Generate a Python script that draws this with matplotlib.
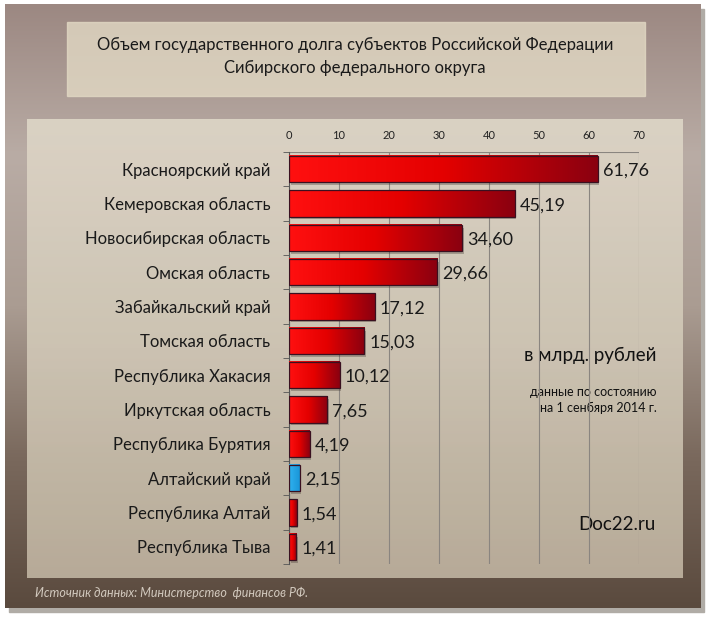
import numpy as np
import matplotlib.pyplot as plt
from matplotlib.colors import LinearSegmentedColormap
from matplotlib.patches import Rectangle

regions = ["Красноярский край", "Кемеровская область", "Новосибирская область",
           "Омская область", "Забайкальский край", "Томская область",
           "Республика Хакасия", "Иркутская область", "Республика Бурятия",
           "Алтайский край", "Республика Алтай", "Республика Тыва"]
debt = [61.76, 45.19, 34.60, 29.66, 17.12, 15.03, 10.12, 7.65, 4.19, 2.15, 1.54, 1.41]
highlight = "Алтайский край"
xticks = [0, 10, 20, 30, 40, 50, 60, 70]

plt.rcParams['font.family'] = ['Lato', 'DejaVu Sans']

W, H = 710, 621
fig = plt.figure(figsize=(W / 100, H / 100), dpi=100)
fig.patch.set_facecolor("white")

# background frame with a vertical gradient
bg = fig.add_axes([0, 0, 1, 1])
bg.set_xlim(0, W)
bg.set_ylim(H, 0)
bg.axis("off")
frame_cmap = LinearSegmentedColormap.from_list(
    "frame", ["#9c8882", "#b9aca5", "#aa9c92", "#7a695d", "#5a4a3e"])
grad = np.linspace(0, 1, 256).reshape(-1, 1)
bg.add_patch(Rectangle((9, 9), 695, 603, color="#b0aca6", zorder=0))
bg.imshow(grad, cmap=frame_cmap, extent=[5, 701, 608, 4], aspect="auto", zorder=1)
# title box and plot panel
bg.add_patch(Rectangle((67, 22), 578, 74, color="#e2d9c4", alpha=0.8, zorder=2))
panel_cmap = LinearSegmentedColormap.from_list("panel", ["#ddd5c6", "#cfc6b5", "#bcb09d"])
bg.imshow(grad, cmap=panel_cmap, extent=[27, 683, 578, 119], aspect="auto",
          alpha=0.95, zorder=2)

bg.text(355, 45, "Объем государственного долга субъектов Российской Федерации",
        ha="center", va="center", fontsize=12, color="#1a1a1a", zorder=3)
bg.text(355, 68, "Сибирского федерального округа",
        ha="center", va="center", fontsize=12, color="#1a1a1a", zorder=3)
bg.text(590, 355, "в млрд. рублей", ha="center", va="center", fontsize=13.5,
        color="#111111", zorder=3)
bg.text(657, 392, "данные по состоянию", ha="right", va="center", fontsize=9,
        color="#111111", zorder=3)
bg.text(657, 408, "на 1 сенбяря 2014 г.", ha="right", va="center", fontsize=9,
        color="#111111", zorder=3)
bg.text(617, 524, "Doc22.ru", ha="center", va="center", fontsize=13.5,
        color="#111111", zorder=3)
bg.text(35, 593, "Источник данных: Министерство  финансов РФ.", ha="left",
        va="center", fontsize=9, style="italic", color="#d2c9be", zorder=3)

# bar chart
ax = fig.add_axes([289 / W, 1 - 564 / H, 350 / W, 412 / H])
ax.set_facecolor("none")

red_cmap = LinearSegmentedColormap.from_list("red", ["#ff1010", "#e40000", "#8a0010"])
blue_cmap = LinearSegmentedColormap.from_list("blue", ["#2fb2f0", "#1a96d8"])
hgrad = np.linspace(0, 1, 256).reshape(1, -1)
h = 0.76
for i, (name, v) in enumerate(zip(regions, debt)):
    ax.add_patch(Rectangle((0.3, i - h / 2 + 0.08), v, h, color="#4a4038",
                           alpha=0.35, zorder=2, lw=0))
    cm = blue_cmap if name == highlight else red_cmap
    ax.imshow(hgrad, cmap=cm, extent=[0, v, i + h / 2, i - h / 2],
              aspect="auto", zorder=3)
    ax.add_patch(Rectangle((0, i - h / 2), v, h, fill=False,
                           edgecolor="#3a1020", lw=0.9, zorder=4))
    ax.text(v + 1.0, i + 0.05, f"{v:.2f}".replace(".", ","), ha="left",
            va="center", fontsize=13, color="#1a1a1a", zorder=5)
ax.set_xlim(0, 70)
ax.set_ylim(len(regions) - 0.5, -0.5)

ax.set_xticks(xticks)
ax.xaxis.tick_top()
ax.tick_params(axis="x", labelsize=8, length=0, pad=8, colors="#222222")
ax.set_yticks(range(len(regions)))
ax.set_yticklabels(regions, fontsize=12, color="#1a1a1a")
ax.tick_params(axis="y", which="major", length=0, pad=13.5)
ax.set_yticks(np.arange(-0.5, len(regions), 1), minor=True)
ax.tick_params(axis="y", which="minor", length=4, color="#555555")
for x in xticks:
    ax.axvline(x, color="#8a8580", lw=0.8, zorder=1)
ax.axhline(-0.5, color="#8a8580", lw=0.8, zorder=1)
for s in ["right", "bottom", "top"]:
    ax.spines[s].set_visible(False)
ax.spines["left"].set_color("#555555")

fig.savefig("out.png", dpi=100)
